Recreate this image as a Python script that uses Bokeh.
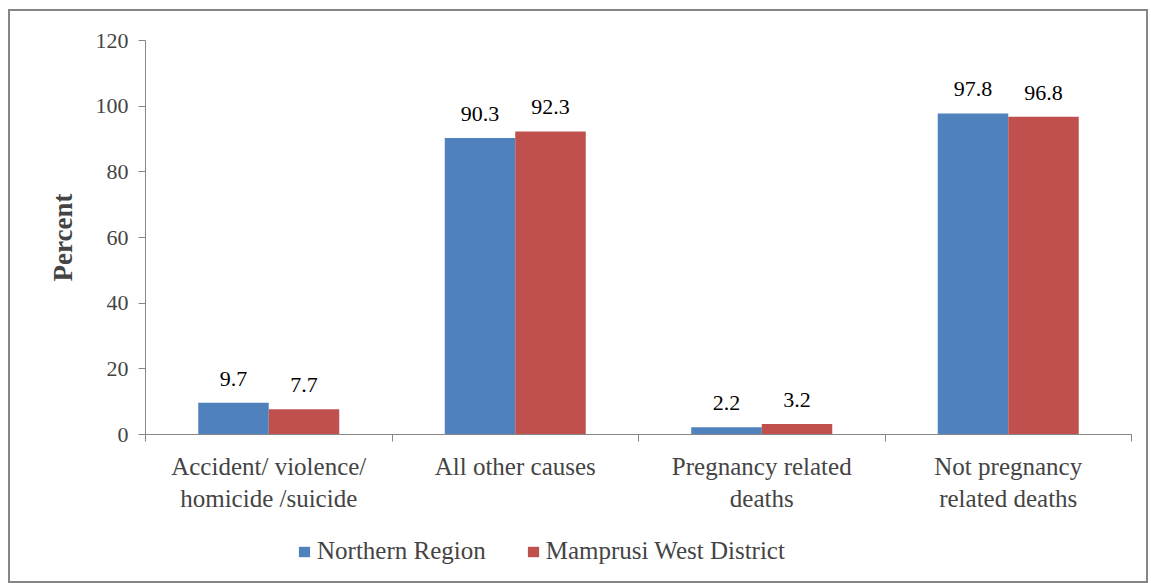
from bokeh.plotting import figure
from bokeh.layouts import column
from bokeh.models import ColumnDataSource, Range1d, FixedTicker, LabelSet, Legend, LegendItem
from bokeh.transform import dodge
from bokeh.embed import file_html
from bokeh.resources import INLINE

categories = ["Accident/ violence/\nhomicide /suicide", "All other causes",
              "Pregnancy related\ndeaths", "Not pregnancy\nrelated deaths"]
northern = [9.7, 90.3, 2.2, 97.8]
mamprusi = [7.7, 92.3, 3.2, 96.8]
series_names = ["Northern Region", "Mamprusi West District"]
y_ticks = [0, 20, 40, 60, 80, 100, 120]

FONT = "Liberation Serif"
BLUE = "#4F81BD"
RED = "#C0504D"
GRAY = "#868686"

xc = [i + 0.5 for i in range(len(categories))]
src = ColumnDataSource(dict(x=xc, n=northern, m=mamprusi,
                            nl=[f"{v:.1f}" for v in northern],
                            ml=[f"{v:.1f}" for v in mamprusi]))

p = figure(width=1136, height=520, output_backend="svg", toolbar_location=None,
           x_range=Range1d(0, 4), y_range=Range1d(0, 120),
           min_border_left=135, min_border_right=15, min_border_top=29, min_border_bottom=97)
p.outline_line_color = None
p.xgrid.visible = False
p.ygrid.visible = False

bw = 0.286
p.vbar(x=dodge("x", -bw / 2, range=p.x_range), top="n", width=bw, source=src,
       fill_color=BLUE, line_color=None)
p.vbar(x=dodge("x", bw / 2, range=p.x_range), top="m", width=bw, source=src,
       fill_color=RED, line_color=None)

for col, lab in (("n", "nl"), ("m", "ml")):
    off = -bw / 2 if col == "n" else bw / 2
    ls = LabelSet(x=dodge("x", off, range=p.x_range), y=col, text=lab, source=src,
                  text_align="center", text_baseline="bottom", y_offset=17,
                  text_font=FONT, text_font_size="22px", text_color="black")
    p.add_layout(ls)

# y axis
ya = p.yaxis[0]
ya.ticker = FixedTicker(ticks=y_ticks)
ya.axis_line_color = GRAY
ya.major_tick_line_color = GRAY
ya.major_tick_in = 0
ya.major_tick_out = 7
ya.minor_tick_line_color = None
ya.major_label_text_font = FONT
ya.major_label_text_font_size = "22px"
ya.major_label_standoff = 10
ya.axis_label = "Percent"
ya.axis_label_text_font = FONT
ya.axis_label_text_font_size = "27px"
ya.axis_label_text_font_style = "bold"
ya.axis_label_standoff = 15

# x axis
xa = p.xaxis[0]
xa.ticker = FixedTicker(ticks=xc, minor_ticks=[0, 1, 2, 3, 4])
xa.major_label_overrides = {v: c for v, c in zip(xc, categories)}
xa.axis_line_color = GRAY
xa.major_tick_line_color = None
xa.minor_tick_line_color = GRAY
xa.minor_tick_in = 0
xa.minor_tick_out = 7
xa.major_label_text_font = FONT
xa.major_label_text_font_size = "25px"
xa.major_label_standoff = 11

# legend strip (proxy renderers sit outside the visible range)
q = figure(width=1136, height=50, output_backend="svg", toolbar_location=None,
           x_range=Range1d(0, 1), y_range=Range1d(0, 1), min_border=0)
q.outline_line_color = None
q.axis.visible = False
q.grid.visible = False
lb = q.vbar(x=[-5], top=[-5], width=1, fill_color=BLUE, line_color=None)
lr = q.vbar(x=[-5], top=[-5], width=1, fill_color=RED, line_color=None)
legend = Legend(items=[LegendItem(label=series_names[0], renderers=[lb]),
                       LegendItem(label=series_names[1], renderers=[lr])],
                orientation="horizontal", location=(152, 16),
                label_text_font=FONT, label_text_font_size="25px",
                glyph_width=14, glyph_height=13, spacing=40, label_standoff=6,
                border_line_color=None, background_fill_alpha=0, margin=0, padding=0)
q.add_layout(legend, "center")

layout = column(p, q, spacing=0)
layout.styles = {"border": f"2px solid {GRAY}", "margin-left": "8px", "margin-top": "9px"}

open("out.html", "w").write(file_html(layout, INLINE))
